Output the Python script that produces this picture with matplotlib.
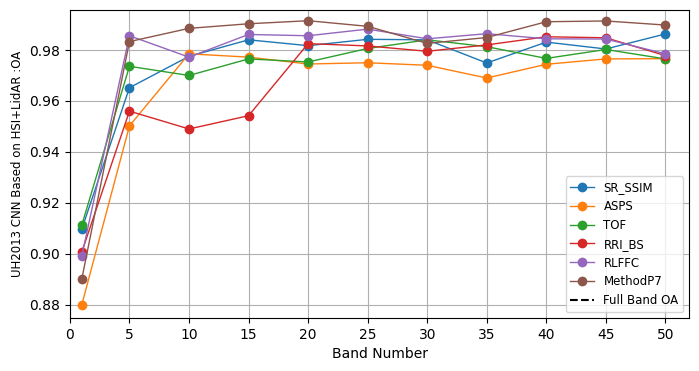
import matplotlib
matplotlib.use("Agg")
import matplotlib.pyplot as plt

bands = [1, 5, 10, 15, 20, 25, 30, 35, 40, 45, 50]

sr_ssim = [0.9097, 0.9652, 0.9775, 0.9840, 0.9817, 0.9842, 0.9840, 0.9749, 0.9831, 0.9804, 0.9863]
asps = [0.8800, 0.9502, 0.9785, 0.9772, 0.9745, 0.9750, 0.9740, 0.9690, 0.9744, 0.9765, 0.9766]
tof = [0.9113, 0.9736, 0.9700, 0.9765, 0.9753, 0.9806, 0.9840, 0.9813, 0.9767, 0.9802, 0.9765]
rri_bs = [0.9007, 0.9560, 0.9490, 0.9542, 0.9825, 0.9816, 0.9795, 0.9820, 0.9852, 0.9848, 0.9778]
rlffc = [0.8992, 0.9856, 0.9772, 0.9861, 0.9856, 0.9882, 0.9844, 0.9864, 0.9844, 0.9843, 0.9785]
method_p7 = [0.8901, 0.9833, 0.9885, 0.9903, 0.9915, 0.9893, 0.9826, 0.9849, 0.9911, 0.9914, 0.9898]

series = {
    "SR_SSIM": sr_ssim,
    "ASPS": asps,
    "TOF": tof,
    "RRI_BS": rri_bs,
    "RLFFC": rlffc,
    "MethodP7": method_p7,
}

fig, ax = plt.subplots(figsize=(6.99, 3.71), dpi=100)
fig.subplots_adjust(left=0.1, right=0.986, top=0.973, bottom=0.143)

for name, vals in series.items():
    ax.plot(bands, vals, marker='o', linewidth=1, markersize=6, label=name)

# full band reference only shows up in the legend
ax.plot([], [], 'k--', label='Full Band OA')

ax.set_xlim(0, 52)
ax.set_ylim(0.8748, 0.9957)
ax.set_xticks(range(0, 51, 5))
ax.set_xlabel("Band Number")
ax.set_ylabel("UH2013 CNN Based on HSI+LidAR :OA", fontsize=8.5)
ax.grid(True)
ax.legend(loc='lower right', fontsize=8.5)

fig.savefig("out.png")
